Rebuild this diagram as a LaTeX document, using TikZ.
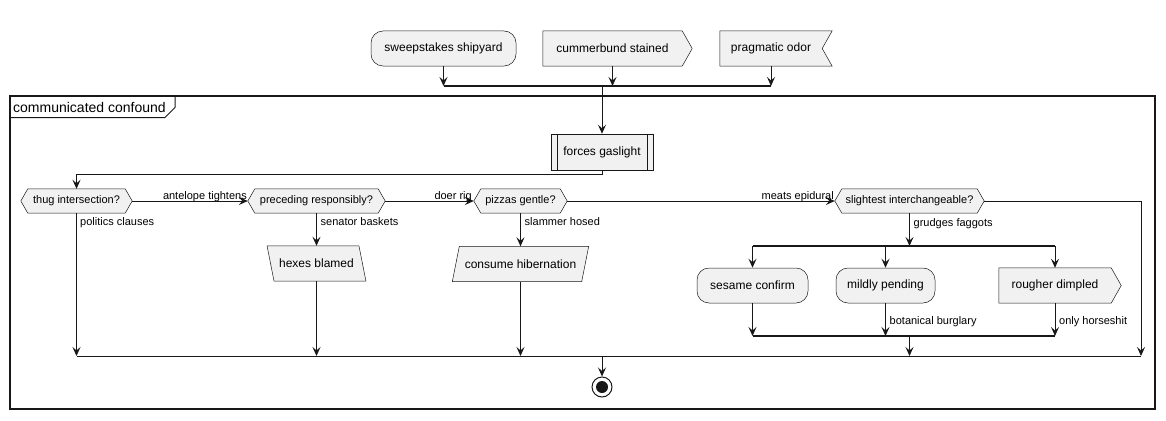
\documentclass[tikz,border=0pt]{standalone}
\usepackage{fontspec}
\setmainfont{Liberation Sans}
\usetikzlibrary{arrows.meta,backgrounds}
\definecolor{lnc}{HTML}{181818}
\definecolor{bx}{HTML}{F1F1F1}
\begin{document}
\begin{tikzpicture}[x=1pt,y=-1pt,
  nt/.style={font=\fontsize{12}{14}\selectfont, inner sep=0pt, text=black},
  box/.style={nt, draw=lnc, line width=0.5pt, fill=bx, minimum height=35pt},
  rbox/.style={box, rounded corners=12pt},
  free/.style={nt, minimum height=35pt},
  hx/.style={inner sep=0pt, font=\fontsize{11}{13}\selectfont, minimum height=24pt},
  shp/.style={draw=lnc, line width=0.5pt, fill=bx},
  arr/.style={draw=lnc, line width=1pt, -{Stealth[length=9pt,width=8pt,inset=3.5pt]}},
  plain/.style={draw=lnc, line width=1pt},
  bar/.style={draw=lnc, line width=1.8pt},
  lbl/.style={font=\fontsize{11}{13}\selectfont, inner sep=0pt},
]
\useasboundingbox (0,0) rectangle (1166,420);

% nodes
\node[rbox, minimum width=145pt] (s1) at (443.5,48.5) {sweepstakes shipyard};
\node[free, minimum width=139pt] (s2) at (612.5,48.5) {cummerbund stained};
\node[free, minimum width=102pt] (s3) at (771,48.5) {pragmatic odor};
\node[box, minimum width=102pt, minimum height=36pt] (fg) at (602,152) {forces gaslight};
\draw[lnc, line width=0.5pt] ([xshift=6pt]fg.north west) -- ([xshift=6pt]fg.south west);
\draw[lnc, line width=0.5pt] ([xshift=-6pt]fg.north east) -- ([xshift=-6pt]fg.south east);
\node[hx, minimum width=111pt] (q1) at (76.5,201) {thug intersection?};
\node[hx, minimum width=137pt] (q2) at (316.5,201) {preceding responsibly?};
\node[hx, minimum width=93pt] (q3) at (520.5,201) {pizzas gentle?};
\node[hx, minimum width=149pt] (q4) at (909.5,201) {slightest interchangeable?};
\node[free, minimum width=98.5pt] (a1) at (316.5,263.5) {hexes blamed};
\node[free, minimum width=136pt] (a2) at (520.5,264) {consume hibernation};
\node[rbox, minimum width=111pt] (a3) at (752.5,285.5) {sesame confirm};
\node[rbox, minimum width=99pt] (a4) at (885.5,285.5) {mildly pending};
\node[free, minimum width=112pt] (a5) at (1055,285.5) {rougher dimpled};
\node[circle, draw=lnc, line width=1pt, fill=white, minimum size=20pt, inner sep=0pt] (end) at (602,387) {};
\fill[lnc] (end.center) circle (6pt);
\node[font=\fontsize{14}{16}\selectfont, inner sep=0pt, anchor=west] (fl) at (13,107.5) {communicated confound};

% outlines behind
\begin{scope}[on background layer]
  \draw[lnc, line width=1.5pt] (10,96) rectangle (1155,409);
  \draw[lnc, line width=1pt] (10,117.5) -- (165,117.5) -- (175,107.5) -- (175,96);
  \draw[shp] (s2.north west) -- (s2.north east) -- ([xshift=10pt]s2.east) -- (s2.south east) -- (s2.south west) -- cycle;
  \draw[shp] (s3.north west) -- ([xshift=10pt]s3.north east) -- (s3.east) -- ([xshift=10pt]s3.south east) -- (s3.south west) -- cycle;
  \draw[shp] (a5.north west) -- (a5.north east) -- ([xshift=10pt]a5.east) -- (a5.south east) -- (a5.south west) -- cycle;
  \foreach \q in {q1,q2,q3,q4}{
    \draw[shp] (\q.west) -- ([xshift=7pt]\q.north west) -- ([xshift=-7pt]\q.north east) -- (\q.east) -- ([xshift=-7pt]\q.south east) -- ([xshift=7pt]\q.south west) -- cycle;
  }
  \draw[shp] (a1.north west) -- ([xshift=-7pt]a1.north east) -- (a1.south east) -- ([xshift=7pt]a1.south west) -- cycle;
  \draw[shp] ([xshift=7pt]a2.north west) -- (a2.north east) -- ([xshift=-7pt]a2.south east) -- (a2.south west) -- cycle;
\end{scope}

% coordinates
\coordinate (b1) at (602,86);
\coordinate (fk) at (909.5,246);
\coordinate (jn) at (909.5,336);
\coordinate (mg) at (602,356);
\coordinate (mr) at (1141,356);

% connectors
\draw[arr] (s1.south) -- (s1.south |- b1);
\draw[arr] (s2.south) -- (s2.south |- b1);
\draw[arr] (s3.south) -- (s3.south |- b1);
\draw[bar] (s1.south |- b1) -- (s3.south |- b1);
\draw[arr] (b1) -- (fg.north);
\draw[arr] (fg.south) -- ++(0,4) -| (q1.north);
\draw[arr] (q1.east) -- (q2.west);
\draw[arr] (q2.east) -- (q3.west);
\draw[arr] (q3.east) -- (q4.west);
\draw[arr] (q2.south) -- (a1.north);
\draw[arr] (q3.south) -- (a2.north);
\draw[arr] (q4.east) -| (mr);
\draw[arr] (q4.south) -- (fk);
\draw[bar] (a3.north |- fk) -- (a5.north |- fk);
\draw[arr] (a3.north |- fk) -- (a3.north);
\draw[arr] (a4.north |- fk) -- (a4.north);
\draw[arr] (a5.north |- fk) -- (a5.north);
\draw[arr] (a3.south) -- (a3.south |- jn);
\draw[arr] (a4.south) -- (a4.south |- jn);
\draw[arr] (a5.south) -- (a5.south |- jn);
\draw[bar] (a3.south |- jn) -- (a5.south |- jn);
\draw[arr] (jn) -- (jn |- mg);
\draw[arr] (q1.south) -- (q1.south |- mg);
\draw[arr] (a1.south) -- (a1.south |- mg);
\draw[arr] (a2.south) -- (a2.south |- mg);
\draw[plain] (q1.south |- mg) -- (mr);
\draw[arr] (mg) -- (end.north);

% labels
\node[lbl, anchor=base east] (l1) at (247,199) {antelope tightens};
\node[lbl, anchor=base east] (l2) at (472,199) {doer rig};
\node[lbl, anchor=base east] (l3) at (834,199) {meats epidural};
\node[lbl, anchor=base west] (l4) at (80,225) {politics clauses};
\node[lbl, anchor=base west] (l5) at (320.5,225) {senator baskets};
\node[lbl, anchor=base west] (l6) at (524.5,225) {slammer hosed};
\node[lbl, anchor=base west] (l7) at (913.5,226) {grudges faggots};
\node[lbl, anchor=base west] (l8) at (889.5,324) {botanical burglary};
\node[lbl, anchor=base west] (l9) at (1059,324) {only horseshit};
\end{tikzpicture}
\end{document}
